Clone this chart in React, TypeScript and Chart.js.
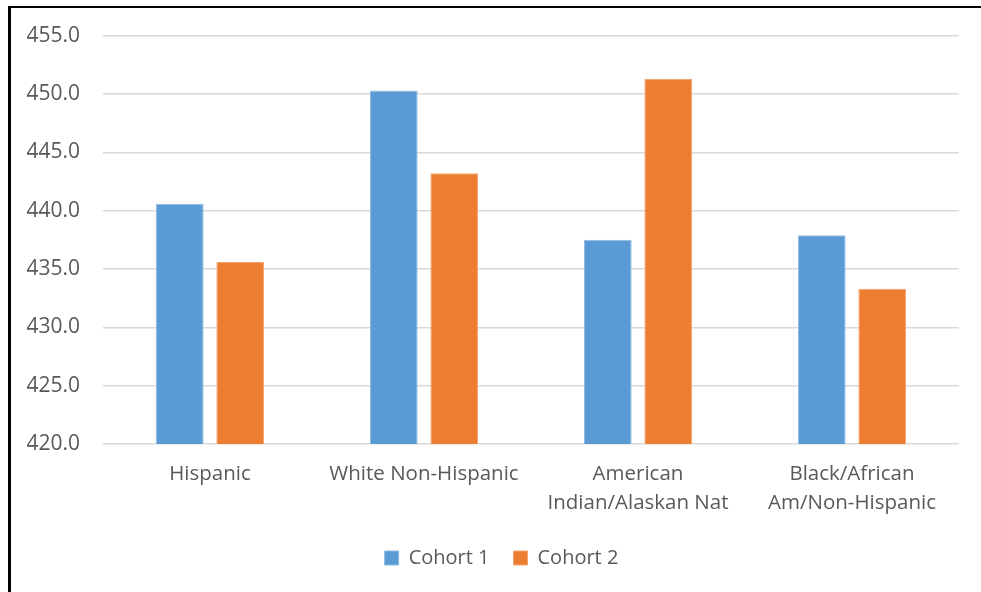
import React, { useEffect, useRef } from "react";
import { Chart, registerables } from "chart.js";

Chart.register(...registerables);

const categories: (string | string[])[] = [
  "Hispanic",
  "White Non-Hispanic",
  ["American", "Indian/Alaskan Nat"],
  ["Black/African", "Am/Non-Hispanic"],
];
const cohort1 = [440.6, 450.3, 437.5, 437.9];
const cohort2 = [435.6, 443.2, 451.3, 433.3];
const yMin = 420;
const yMax = 455;
const yStep = 5;

const legendShift = {
  id: "legendShift",
  afterLayout(chart: any) {
    const lg = chart.legend;
    if (lg) {
      lg.left += 22;
      lg.right += 22;
    }
  },
};

export default function App() {
  const ref = useRef<HTMLCanvasElement | null>(null);
  useEffect(() => {
    if (!ref.current) return;
    const family = "'Open Sans', sans-serif";
    const chart = new Chart(ref.current, {
      type: "bar",
      data: {
        labels: categories,
        datasets: [
          {
            label: "Cohort 1",
            data: cohort1,
            backgroundColor: "#5B9BD5",
            borderColor: "#8DBAE3",
            borderWidth: 1,
          },
          {
            label: "Cohort 2",
            data: cohort2,
            backgroundColor: "#ED7D31",
            borderColor: "#F2A46F",
            borderWidth: 1,
          },
        ],
      },
      plugins: [legendShift],
      options: {
        animation: false,
        responsive: false,
        maintainAspectRatio: false,
        datasets: {
          bar: { categoryPercentage: 0.565, barPercentage: 0.79 },
        },
        layout: { padding: { left: 0, right: 22, top: 28, bottom: 14 } },
        plugins: {
          tooltip: { enabled: false },
          legend: {
            position: "bottom",
            labels: {
              font: { family, size: 20 },
              color: "#595959",
              boxWidth: 14,
              boxHeight: 14,
              padding: 24,
            },
          },
        },
        scales: {
          x: {
            afterFit: (s: any) => {
              s.height = 80;
            },
            grid: { display: false, drawTicks: false },
            border: { display: false },
            ticks: {
              font: { family, size: 20.5, lineHeight: 1.415 },
              color: "#595959",
              maxRotation: 0,
              autoSkip: false,
              padding: 16,
            },
          },
          y: {
            min: yMin,
            max: yMax,
            afterFit: (s: any) => {
              s.width = 103;
            },
            grid: { color: "#d9d9d9", lineWidth: 1.5, drawTicks: false },
            border: { display: false },
            ticks: {
              stepSize: yStep,
              font: { family, size: 21 },
              color: "#595959",
              padding: 23,
              callback: (v: any) => Number(v).toFixed(1),
            },
          },
        },
      },
    });
    return () => chart.destroy();
  }, []);
  return (
    <div style={{ position: "fixed", left: 0, top: 0, width: 981, height: 592, background: "#fff" }}>
      <canvas ref={ref} width={981} height={592} style={{ position: "absolute", left: 0, top: 0 }} />
      <div
        style={{
          position: "absolute",
          left: 8,
          top: 6,
          width: 973,
          height: 586,
          borderLeft: "3px solid #000",
          borderTop: "2px solid #000",
          pointerEvents: "none",
        }}
      />
    </div>
  );
}
